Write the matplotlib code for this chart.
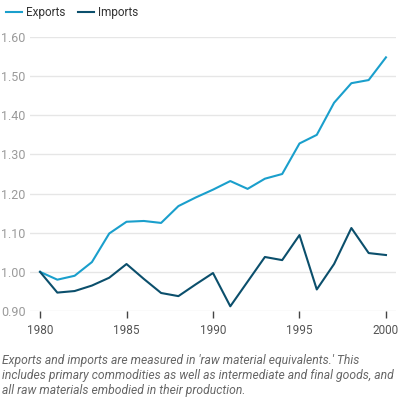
import matplotlib
matplotlib.use("Agg")
from matplotlib import pyplot as plt
from matplotlib.lines import Line2D

plt.rcParams['font.family'] = ['Roboto', 'DejaVu Sans']

years = list(range(1980, 2001))
exports = [1.00, 0.980, 0.990, 1.025, 1.098, 1.128, 1.130, 1.125, 1.168, 1.190, 1.210,
           1.232, 1.212, 1.238, 1.250, 1.328, 1.350, 1.432, 1.482, 1.490, 1.548]
imports = [1.00, 0.947, 0.951, 0.965, 0.985, 1.020, 0.982, 0.946, 0.938, 0.968, 0.997,
           0.912, 0.975, 1.038, 1.030, 1.094, 0.955, 1.020, 1.112, 1.048, 1.043]
y_ticks = [0.90, 1.00, 1.10, 1.20, 1.30, 1.40, 1.50, 1.60]
x_ticks = [1980, 1985, 1990, 1995, 2000]
note = ("Exports and imports are measured in 'raw material equivalents.' This\n"
        "includes primary commodities as well as intermediate and final goods, and\n"
        "all raw materials embodied in their production.")

c_exp = '#1a9fcc'
c_imp = '#0b4f6c'

fig = plt.figure(figsize=(4, 3.99), dpi=100)
ax = fig.add_axes([30 / 400, 88 / 399, 366 / 400, 274 / 399])

ax.plot(years, exports, color=c_exp, lw=1.5, clip_on=False, zorder=3)
ax.plot(years, imports, color=c_imp, lw=1.5, clip_on=False, zorder=3)

ax.set_xlim(1979.42, 2000.58)
ax.set_ylim(0.9, 1.6)
ax.set_yticks(y_ticks)
ax.set_yticklabels([f"{v:.2f}" for v in y_ticks])
ax.set_xticks(x_ticks)
ax.grid(axis='y', color='#e6e6e6', lw=1)
ax.set_axisbelow(True)
for s in ax.spines.values():
    s.set_visible(False)
ax.tick_params(axis='y', length=0, pad=3, labelsize=9, labelcolor='#9a9a9a')
ax.tick_params(axis='x', length=5, width=1, color='#444444', pad=4,
               labelsize=8.5, labelcolor='#555555')

handles = [Line2D([], [], color=c_exp, lw=1.5), Line2D([], [], color=c_imp, lw=1.5)]
fig.legend(handles, ['Exports', 'Imports'], loc='upper left', bbox_to_anchor=(-0.012, 1.012),
           ncol=2, frameon=False, fontsize=8.5, handlelength=1.4, handletextpad=0.35,
           columnspacing=1.0, labelcolor='#333333')

fig.text(0.005, 0.004, note, ha='left', va='bottom', fontsize=8.7, style='italic',
         color='#666666', linespacing=1.22)

fig.savefig('out.png', dpi=100)
